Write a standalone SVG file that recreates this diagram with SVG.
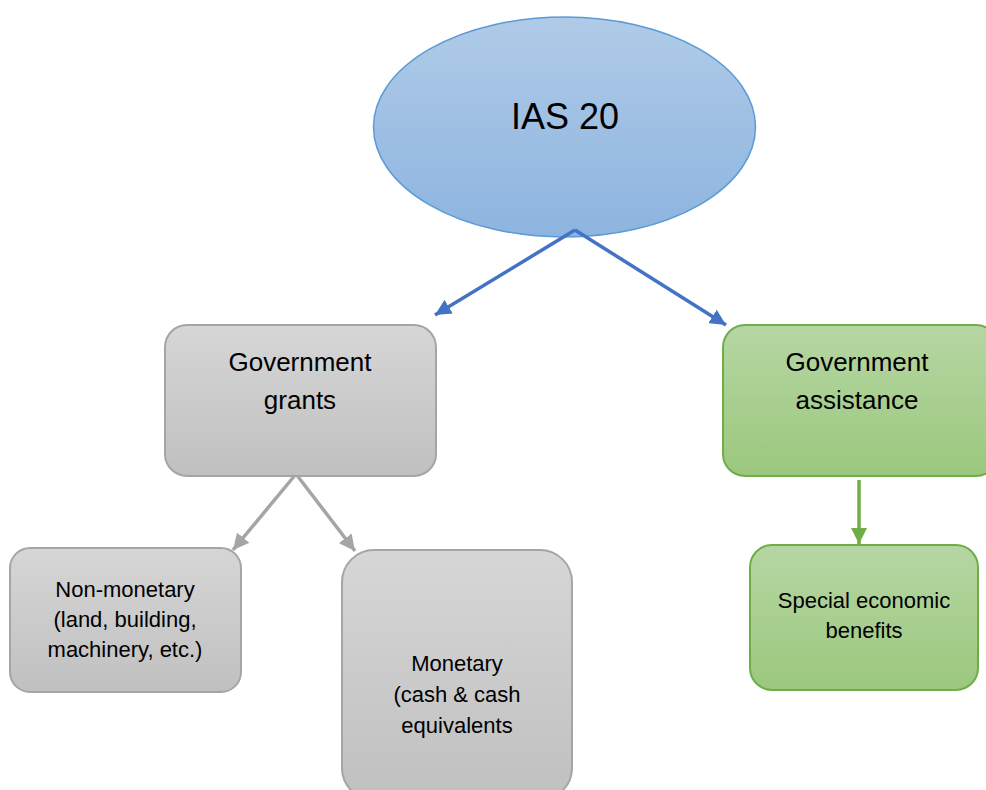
<svg xmlns="http://www.w3.org/2000/svg" width="986" height="790" viewBox="0 0 986 790">
  <defs>
    <linearGradient id="gBlue" x1="0" y1="0" x2="0" y2="1">
      <stop offset="0" stop-color="#b0cbe8"/>
      <stop offset="1" stop-color="#8db4df"/>
    </linearGradient>
    <linearGradient id="gGray" x1="0" y1="0" x2="0" y2="1">
      <stop offset="0" stop-color="#d6d6d6"/>
      <stop offset="1" stop-color="#c0c0c0"/>
    </linearGradient>
    <linearGradient id="gGreen" x1="0" y1="0" x2="0" y2="1">
      <stop offset="0" stop-color="#b6d6a3"/>
      <stop offset="1" stop-color="#9bc87d"/>
    </linearGradient>
    <marker id="arBlue" markerUnits="userSpaceOnUse" markerWidth="18" markerHeight="16" refX="16" refY="8" orient="auto">
      <path d="M0,0 L16,8 L0,16 Z" fill="#4472c4"/>
    </marker>
    <marker id="arGray" markerUnits="userSpaceOnUse" markerWidth="18" markerHeight="16" refX="16" refY="8" orient="auto">
      <path d="M0,0 L16,8 L0,16 Z" fill="#a5a5a5"/>
    </marker>
    <marker id="arGreen" markerUnits="userSpaceOnUse" markerWidth="18" markerHeight="16" refX="16" refY="8" orient="auto">
      <path d="M0,0 L16,8 L0,16 Z" fill="#70ad47"/>
    </marker>
  </defs>
  <style>
    .t { font-family: "Liberation Sans", Arial, sans-serif; fill: #000; text-anchor: middle; }
    .big { font-size: 36px; }
    .mid { font-size: 26px; }
    .sm { font-size: 22px; }
    .gray { fill: url(#gGray); stroke: #a5a5a5; stroke-width: 2; }
    .green { fill: url(#gGreen); stroke: #70ad47; stroke-width: 2; }
    .c { fill: none; stroke-width: 3.5; stroke-linejoin: miter; }
  </style>

  <rect width="986" height="790" fill="#ffffff"/>

  <!-- root -->
  <g id="ias20">
    <ellipse cx="564.5" cy="127" rx="191" ry="110" fill="url(#gBlue)" stroke="#5b9bd5" stroke-width="1.5"/>
    <text class="t big" x="565" y="129">IAS 20</text>
  </g>

  <!-- connectors -->
  <g id="connectors">
    <path class="c" d="M575,230 L435,315" stroke="#4472c4" marker-end="url(#arBlue)"/>
    <path class="c" d="M575,230 L726,325" stroke="#4472c4" marker-end="url(#arBlue)"/>
    <path class="c" d="M296,474 L233,550" stroke="#a5a5a5" marker-end="url(#arGray)"/>
    <path class="c" d="M296,474 L355,551" stroke="#a5a5a5" marker-end="url(#arGray)"/>
    <path class="c" d="M859,480 L859,544" stroke="#70ad47" marker-end="url(#arGreen)"/>
  </g>

  <g id="grants">
    <rect class="gray" x="165" y="325" width="271" height="151" rx="22"/>
    <text class="t mid" x="300" y="371">Government</text>
    <text class="t mid" x="300" y="409">grants</text>
  </g>

  <g id="assistance">
    <rect class="green" x="723" y="325" width="275" height="151" rx="22"/>
    <text class="t mid" x="857" y="371">Government</text>
    <text class="t mid" x="857" y="409">assistance</text>
  </g>

  <g id="nonmonetary">
    <rect class="gray" x="10" y="548" width="231" height="144" rx="20"/>
    <text class="t sm" x="125" y="597">Non-monetary</text>
    <text class="t sm" x="125" y="627">(land, building,</text>
    <text class="t sm" x="125" y="657">machinery, etc.)</text>
  </g>

  <g id="monetary">
    <rect class="gray" x="342" y="550" width="230" height="250" rx="32"/>
    <text class="t sm" x="457" y="671">Monetary</text>
    <text class="t sm" x="457" y="702">(cash &amp; cash</text>
    <text class="t sm" x="457" y="733">equivalents</text>
  </g>

  <g id="special">
    <rect class="green" x="750" y="545" width="228" height="145" rx="22"/>
    <text class="t sm" x="864" y="608">Special economic</text>
    <text class="t sm" x="864" y="638">benefits</text>
  </g>
</svg>
